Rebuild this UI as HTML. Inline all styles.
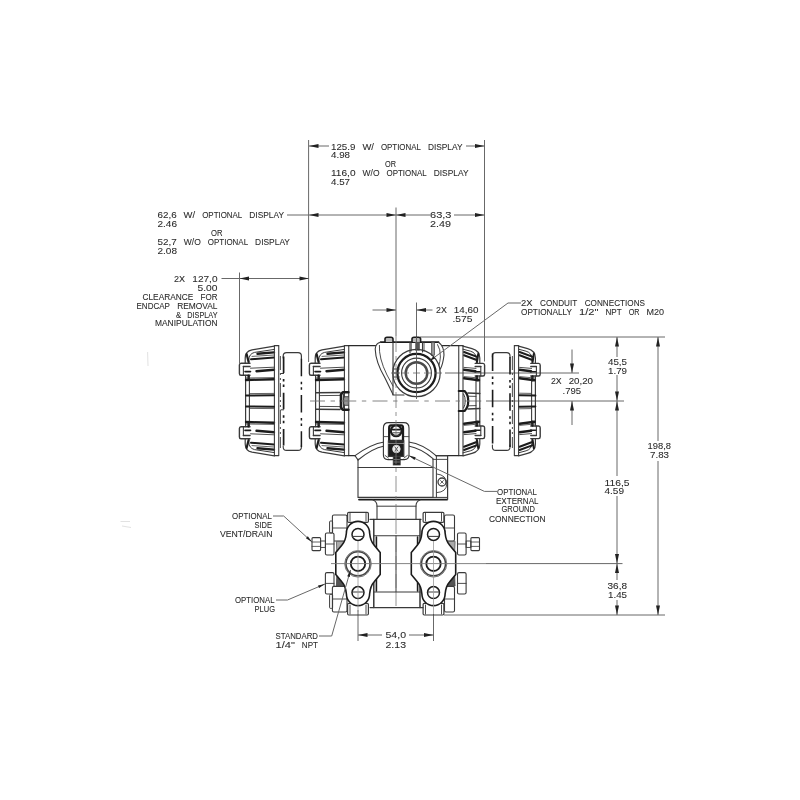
<!DOCTYPE html>
<html><head><meta charset="utf-8"><title>Dimension drawing</title>
<style>
html,body{margin:0;padding:0;background:#fff;}
body{width:800px;height:800px;overflow:hidden;}
svg{display:block;filter:grayscale(1) blur(0.45px);}
text{font-family:"Liberation Sans",sans-serif;fill:#2a2a2a;stroke:#2a2a2a;stroke-width:0.08px;}
</style></head><body>
<svg width="800" height="800" viewBox="0 0 800 800">
<rect width="800" height="800" fill="#ffffff"/>
<g id="dims" fill="none">
<line x1="308.6" y1="140" x2="308.6" y2="362" stroke="#686868" stroke-width="1" />
<line x1="484.5" y1="140" x2="484.5" y2="361.5" stroke="#686868" stroke-width="1" />
<line x1="396" y1="207.5" x2="396" y2="336" stroke="#686868" stroke-width="1" />
<line x1="239.5" y1="272.5" x2="239.5" y2="363" stroke="#686868" stroke-width="1" />
<line x1="416.5" y1="302.5" x2="416.5" y2="337" stroke="#686868" stroke-width="1" />
<line x1="309" y1="146" x2="329" y2="146" stroke="#686868" stroke-width="1" />
<line x1="466" y1="146" x2="484.5" y2="146" stroke="#686868" stroke-width="1" />
<polygon points="309.0,146.0 318.5,144.0 318.5,148.0" fill="#222"/>
<polygon points="484.5,146.0 475.0,144.0 475.0,148.0" fill="#222"/>
<line x1="287" y1="215" x2="430" y2="215" stroke="#686868" stroke-width="1" />
<line x1="454" y1="215" x2="484.5" y2="215" stroke="#686868" stroke-width="1" />
<polygon points="309.0,215.0 318.5,213.0 318.5,217.0" fill="#222"/>
<polygon points="396.0,215.0 386.5,213.0 386.5,217.0" fill="#222"/>
<polygon points="396.0,215.0 405.5,213.0 405.5,217.0" fill="#222"/>
<polygon points="484.5,215.0 475.0,213.0 475.0,217.0" fill="#222"/>
<line x1="221.5" y1="278.5" x2="309" y2="278.5" stroke="#686868" stroke-width="1" />
<polygon points="239.5,278.5 249.0,276.5 249.0,280.5" fill="#222"/>
<polygon points="309.0,278.5 299.5,276.5 299.5,280.5" fill="#222"/>
<line x1="372.5" y1="310" x2="396" y2="310" stroke="#686868" stroke-width="1" />
<polygon points="396.0,310.0 386.5,308.0 386.5,312.0" fill="#222"/>
<line x1="416.5" y1="310" x2="432.5" y2="310" stroke="#686868" stroke-width="1" />
<polygon points="416.5,310.0 426.0,308.0 426.0,312.0" fill="#222"/>
<line x1="420" y1="337" x2="665" y2="337" stroke="#686868" stroke-width="1" />
<line x1="445" y1="373" x2="579" y2="373" stroke="#686868" stroke-width="1" />
<line x1="486" y1="401" x2="624" y2="401" stroke="#686868" stroke-width="1" />
<line x1="486" y1="563.6" x2="622.5" y2="563.6" stroke="#686868" stroke-width="1" />
<line x1="444" y1="615" x2="665" y2="615" stroke="#686868" stroke-width="1" />
<line x1="617" y1="337" x2="617" y2="357" stroke="#686868" stroke-width="1" />
<line x1="617" y1="375" x2="617" y2="401" stroke="#686868" stroke-width="1" />
<polygon points="617.0,337.0 615.0,346.5 619.0,346.5" fill="#222"/>
<polygon points="617.0,401.0 615.0,391.5 619.0,391.5" fill="#222"/>
<line x1="617" y1="401" x2="617" y2="476" stroke="#686868" stroke-width="1" />
<line x1="617" y1="496" x2="617" y2="563.6" stroke="#686868" stroke-width="1" />
<polygon points="617.0,401.0 615.0,410.5 619.0,410.5" fill="#222"/>
<polygon points="617.0,563.6 615.0,554.1 619.0,554.1" fill="#222"/>
<line x1="617" y1="563.6" x2="617" y2="580" stroke="#686868" stroke-width="1" />
<line x1="617" y1="600" x2="617" y2="615" stroke="#686868" stroke-width="1" />
<polygon points="617.0,563.6 615.0,573.1 619.0,573.1" fill="#222"/>
<polygon points="617.0,615.0 615.0,605.5 619.0,605.5" fill="#222"/>
<line x1="658" y1="337" x2="658" y2="441" stroke="#686868" stroke-width="1" />
<line x1="658" y1="461" x2="658" y2="615" stroke="#686868" stroke-width="1" />
<polygon points="658.0,337.0 656.0,346.5 660.0,346.5" fill="#222"/>
<polygon points="658.0,615.0 656.0,605.5 660.0,605.5" fill="#222"/>
<line x1="572" y1="349.5" x2="572" y2="373" stroke="#686868" stroke-width="1" />
<polygon points="572.0,373.0 570.0,363.5 574.0,363.5" fill="#222"/>
<line x1="572" y1="401" x2="572" y2="425" stroke="#686868" stroke-width="1" />
<polygon points="572.0,401.0 570.0,410.5 574.0,410.5" fill="#222"/>
<line x1="358" y1="610" x2="358" y2="641" stroke="#686868" stroke-width="1" />
<line x1="433.5" y1="614" x2="433.5" y2="641" stroke="#686868" stroke-width="1" />
<line x1="358" y1="635" x2="382" y2="635" stroke="#686868" stroke-width="1" />
<line x1="409" y1="635" x2="433.5" y2="635" stroke="#686868" stroke-width="1" />
<polygon points="358.0,635.0 367.5,633.0 367.5,637.0" fill="#222"/>
<polygon points="433.5,635.0 424.0,633.0 424.0,637.0" fill="#222"/>
</g>
<g id="labels" style="opacity:0.999">
<text x="331.00" y="149.5" font-size="9.2" textLength="24.42" lengthAdjust="spacingAndGlyphs">125.9</text>
<text x="362.40" y="149.5" font-size="9.2" textLength="11.54" lengthAdjust="spacingAndGlyphs">W/</text>
<text x="380.92" y="149.5" font-size="9.2" textLength="39.99" lengthAdjust="spacingAndGlyphs">OPTIONAL</text>
<text x="427.88" y="149.5" font-size="9.2" textLength="34.62" lengthAdjust="spacingAndGlyphs">DISPLAY</text>
<text x="331.00" y="158.0" font-size="9.2" textLength="19.00" lengthAdjust="spacingAndGlyphs">4.98</text>
<text x="385.00" y="167.0" font-size="9.2" textLength="11.00" lengthAdjust="spacingAndGlyphs">OR</text>
<text x="331.00" y="175.5" font-size="9.2" textLength="24.53" lengthAdjust="spacingAndGlyphs">116,0</text>
<text x="362.54" y="175.5" font-size="9.2" textLength="16.99" lengthAdjust="spacingAndGlyphs">W/O</text>
<text x="386.54" y="175.5" font-size="9.2" textLength="40.17" lengthAdjust="spacingAndGlyphs">OPTIONAL</text>
<text x="433.72" y="175.5" font-size="9.2" textLength="34.78" lengthAdjust="spacingAndGlyphs">DISPLAY</text>
<text x="331.00" y="184.5" font-size="9.2" textLength="19.00" lengthAdjust="spacingAndGlyphs">4.57</text>
<text x="157.50" y="218.0" font-size="9.2" textLength="19.11" lengthAdjust="spacingAndGlyphs">62,6</text>
<text x="183.61" y="218.0" font-size="9.2" textLength="11.57" lengthAdjust="spacingAndGlyphs">W/</text>
<text x="202.18" y="218.0" font-size="9.2" textLength="40.10" lengthAdjust="spacingAndGlyphs">OPTIONAL</text>
<text x="249.28" y="218.0" font-size="9.2" textLength="34.72" lengthAdjust="spacingAndGlyphs">DISPLAY</text>
<text x="157.50" y="226.5" font-size="9.2" textLength="19.50" lengthAdjust="spacingAndGlyphs">2.46</text>
<text x="211.00" y="236.0" font-size="9.2" textLength="11.50" lengthAdjust="spacingAndGlyphs">OR</text>
<text x="157.50" y="245.0" font-size="9.2" textLength="19.20" lengthAdjust="spacingAndGlyphs">52,7</text>
<text x="183.73" y="245.0" font-size="9.2" textLength="17.04" lengthAdjust="spacingAndGlyphs">W/O</text>
<text x="207.80" y="245.0" font-size="9.2" textLength="40.29" lengthAdjust="spacingAndGlyphs">OPTIONAL</text>
<text x="255.12" y="245.0" font-size="9.2" textLength="34.88" lengthAdjust="spacingAndGlyphs">DISPLAY</text>
<text x="157.50" y="253.5" font-size="9.2" textLength="19.50" lengthAdjust="spacingAndGlyphs">2.08</text>
<text x="430.00" y="218.0" font-size="9.2" textLength="21.50" lengthAdjust="spacingAndGlyphs">63,3</text>
<text x="430.00" y="226.5" font-size="9.2" textLength="21.00" lengthAdjust="spacingAndGlyphs">2.49</text>
<text x="174.00" y="282.0" font-size="9.2" textLength="11.08" lengthAdjust="spacingAndGlyphs">2X</text>
<text x="192.29" y="282.0" font-size="9.2" textLength="25.21" lengthAdjust="spacingAndGlyphs">127,0</text>
<text x="197.50" y="290.5" font-size="9.2" textLength="20.00" lengthAdjust="spacingAndGlyphs">5.00</text>
<text x="142.50" y="299.5" font-size="9.2" textLength="50.75" lengthAdjust="spacingAndGlyphs">CLEARANCE</text>
<text x="200.58" y="299.5" font-size="9.2" textLength="16.92" lengthAdjust="spacingAndGlyphs">FOR</text>
<text x="136.50" y="308.5" font-size="9.2" textLength="33.40" lengthAdjust="spacingAndGlyphs">ENDCAP</text>
<text x="177.14" y="308.5" font-size="9.2" textLength="40.36" lengthAdjust="spacingAndGlyphs">REMOVAL</text>
<text x="176.00" y="317.5" font-size="9.2" textLength="5.16" lengthAdjust="spacingAndGlyphs">&amp;</text>
<text x="187.25" y="317.5" font-size="9.2" textLength="30.25" lengthAdjust="spacingAndGlyphs">DISPLAY</text>
<text x="155.00" y="326.0" font-size="9.2" textLength="62.50" lengthAdjust="spacingAndGlyphs">MANIPULATION</text>
<text x="436.00" y="313.0" font-size="9.2" textLength="10.83" lengthAdjust="spacingAndGlyphs">2X</text>
<text x="453.87" y="313.0" font-size="9.2" textLength="24.63" lengthAdjust="spacingAndGlyphs">14,60</text>
<text x="452.50" y="322.0" font-size="9.2" textLength="20.00" lengthAdjust="spacingAndGlyphs">.575</text>
<text x="521.00" y="305.5" font-size="9.2" textLength="11.53" lengthAdjust="spacingAndGlyphs">2X</text>
<text x="540.03" y="305.5" font-size="9.2" textLength="37.20" lengthAdjust="spacingAndGlyphs">CONDUIT</text>
<text x="584.73" y="305.5" font-size="9.2" textLength="60.27" lengthAdjust="spacingAndGlyphs">CONNECTIONS</text>
<text x="521.00" y="314.5" font-size="9.2" textLength="50.99" lengthAdjust="spacingAndGlyphs">OPTIONALLY</text>
<text x="579.01" y="314.5" font-size="9.2" textLength="19.43" lengthAdjust="spacingAndGlyphs">1/2&quot;</text>
<text x="605.45" y="314.5" font-size="9.2" textLength="16.19" lengthAdjust="spacingAndGlyphs">NPT</text>
<text x="628.65" y="314.5" font-size="9.2" textLength="10.79" lengthAdjust="spacingAndGlyphs">OR</text>
<text x="646.46" y="314.5" font-size="9.2" textLength="17.54" lengthAdjust="spacingAndGlyphs">M20</text>
<text x="608.00" y="364.5" font-size="9.2" textLength="19.00" lengthAdjust="spacingAndGlyphs">45,5</text>
<text x="608.00" y="373.5" font-size="9.2" textLength="19.00" lengthAdjust="spacingAndGlyphs">1.79</text>
<text x="551.00" y="384.0" font-size="9.2" textLength="10.70" lengthAdjust="spacingAndGlyphs">2X</text>
<text x="568.66" y="384.0" font-size="9.2" textLength="24.34" lengthAdjust="spacingAndGlyphs">20,20</text>
<text x="562.50" y="393.5" font-size="9.2" textLength="18.50" lengthAdjust="spacingAndGlyphs">.795</text>
<text x="647.50" y="449.0" font-size="9.2" textLength="23.50" lengthAdjust="spacingAndGlyphs">198,8</text>
<text x="650.00" y="458.0" font-size="9.2" textLength="19.00" lengthAdjust="spacingAndGlyphs">7.83</text>
<text x="604.50" y="485.5" font-size="9.2" textLength="25.00" lengthAdjust="spacingAndGlyphs">116,5</text>
<text x="604.50" y="494.0" font-size="9.2" textLength="19.50" lengthAdjust="spacingAndGlyphs">4.59</text>
<text x="607.50" y="588.5" font-size="9.2" textLength="19.50" lengthAdjust="spacingAndGlyphs">36,8</text>
<text x="608.00" y="597.5" font-size="9.2" textLength="19.00" lengthAdjust="spacingAndGlyphs">1.45</text>
<text x="497.00" y="495.0" font-size="9.2" textLength="40.00" lengthAdjust="spacingAndGlyphs">OPTIONAL</text>
<text x="496.00" y="503.5" font-size="9.2" textLength="42.50" lengthAdjust="spacingAndGlyphs">EXTERNAL</text>
<text x="501.50" y="512.0" font-size="9.2" textLength="33.50" lengthAdjust="spacingAndGlyphs">GROUND</text>
<text x="489.00" y="521.5" font-size="9.2" textLength="56.50" lengthAdjust="spacingAndGlyphs">CONNECTION</text>
<text x="232.00" y="518.5" font-size="9.2" textLength="40.00" lengthAdjust="spacingAndGlyphs">OPTIONAL</text>
<text x="254.50" y="527.5" font-size="9.2" textLength="17.50" lengthAdjust="spacingAndGlyphs">SIDE</text>
<text x="220.00" y="536.5" font-size="9.2" textLength="52.50" lengthAdjust="spacingAndGlyphs">VENT/DRAIN</text>
<text x="235.00" y="603.0" font-size="9.2" textLength="39.50" lengthAdjust="spacingAndGlyphs">OPTIONAL</text>
<text x="254.50" y="612.0" font-size="9.2" textLength="20.50" lengthAdjust="spacingAndGlyphs">PLUG</text>
<text x="275.50" y="638.5" font-size="9.2" textLength="42.50" lengthAdjust="spacingAndGlyphs">STANDARD</text>
<text x="275.50" y="648.0" font-size="9.2" textLength="19.37" lengthAdjust="spacingAndGlyphs">1/4&quot;</text>
<text x="301.86" y="648.0" font-size="9.2" textLength="16.14" lengthAdjust="spacingAndGlyphs">NPT</text>
<text x="385.50" y="638.0" font-size="9.2" textLength="20.50" lengthAdjust="spacingAndGlyphs">54,0</text>
<text x="385.50" y="647.5" font-size="9.2" textLength="20.50" lengthAdjust="spacingAndGlyphs">2.13</text>
</g>
<defs>
<g id="capLhalf" fill="none" stroke="#3a3a3a" stroke-linecap="round" stroke-linejoin="round">
<path d="M344.4,346.2 L322,349.8 Q315.2,351.2 315.2,358 L315.2,363" stroke-width="1.2"/>
<path d="M344.4,349.4 L324.5,352.4 Q319,353.8 318.8,360 L318.8,363" stroke-width="1.0"/>
<path d="M316.6,354 L318.6,362" stroke="#1c1c1c" stroke-width="2.2"/>
<path d="M320,363.2 L311,363.2 Q309.4,363.2 309.4,365 L309.4,373.4 Q309.4,375.2 311,375.2 L320,375.2" stroke-width="1.4"/>
<path d="M313.4,366.4 L313.4,375" stroke-width="1.1"/>
<path d="M313.4,366.4 L320,366.4" stroke-width="1.5"/>
<path d="M315,371.6 L320.5,371.6" stroke="#1c1c1c" stroke-width="1.6"/>
<path d="M315.6,375.4 L315.6,401" stroke-width="1.2"/>
<path d="M319.4,375.4 L319.4,401" stroke-width="1.1"/>
<path d="M318.4,375.4 L318.4,380" stroke="#1c1c1c" stroke-width="2"/>
<path d="M327.5,353.8 L344,352.4" stroke="#1c1c1c" stroke-width="2.4"/>
<path d="M322,356.4 L344,355" stroke-width="0.8"/>
<path d="M321,359.2 L344,357.6" stroke="#1c1c1c" stroke-width="2.0"/>
<path d="M320.5,368.2 L344,367.2" stroke-width="0.9"/>
<path d="M326.5,371.2 L344,369.8" stroke="#1c1c1c" stroke-width="2.4"/>
<path d="M316,378 L344,377.6" stroke-width="0.8"/>
<path d="M316,380 L344,379.2" stroke="#1c1c1c" stroke-width="2.4"/>
</g>
<g id="bossLhalf" fill="none" stroke="#3a3a3a" stroke-linecap="round" stroke-linejoin="round">
<path d="M316,392.8 L340,392.4" stroke-width="1.5"/>
<path d="M319.4,395.6 L340,395.4" stroke-width="0.9"/>
<path d="M341,401 L341,394.4 L342.8,392.2 L348.4,392.2" stroke="#1c1c1c" stroke-width="2.6"/>
<path d="M343.4,397.6 L348,397.6 L348,401 L343.4,401 Z" stroke="#777" stroke-width="0.6" fill="#999"/>
<path d="M343.6,396.8 L348.4,396.8 M343.6,394 L343.6,401" stroke-width="1.1"/>
</g>
<g id="plainLhalf" fill="none" stroke="#3a3a3a" stroke-linecap="round" stroke-linejoin="round">
<path d="M316,395.6 L344,395.2" stroke="#1c1c1c" stroke-width="2.0"/>
<path d="M319.4,393.6 L344,393.4" stroke-width="0.8"/>
</g>
<g id="bossL"><use href="#bossLhalf"/><use href="#bossLhalf" transform="translate(0,802) scale(1,-1)"/></g>
<g id="plainL"><use href="#plainLhalf"/><use href="#plainLhalf" transform="translate(0,802) scale(1,-1)"/></g>
<g id="capL"><use href="#capLhalf"/><use href="#capLhalf" transform="translate(0,802) scale(1,-1)"/>
<path d="M344.4,345.6 L344.4,455.6 M348.75,345.6 L348.75,455.6" stroke="#3a3a3a" stroke-width="1.1" fill="none"/>
</g>
<g id="capRhalf" fill="none" stroke="#3a3a3a" stroke-linecap="round" stroke-linejoin="round">
<path d="M463,346.2 L472,348.6 Q479.8,350.6 479.8,358 L479.8,363" stroke-width="1.2"/>
<path d="M463,349.2 L470.5,351.2 Q476.2,352.8 476.4,359 L476.4,363" stroke-width="1.0"/>
<path d="M478.2,354 L477,362" stroke="#1c1c1c" stroke-width="2"/>
<path d="M475.2,363.4 L483,363.4 Q484.6,363.4 484.6,365.2 L484.6,374.2 Q484.6,376 483,376 L475.2,376" stroke-width="1.4"/>
<path d="M480.8,366.6 L480.8,376" stroke-width="1.1"/>
<path d="M475.2,366.6 L480.8,366.6" stroke-width="1.5"/>
<path d="M475,371.8 L480,371.8" stroke="#1c1c1c" stroke-width="1.6"/>
<path d="M479.8,376.2 L479.8,401" stroke-width="1.2"/>
<path d="M476,376.2 L476,401" stroke-width="1.1"/>
<path d="M477,376.2 L477,380.6" stroke="#1c1c1c" stroke-width="2"/>
<path d="M464,352 L476.5,356.6" stroke="#1c1c1c" stroke-width="2"/>
<path d="M464,355.2 L476,359.8" stroke="#1c1c1c" stroke-width="2.0"/>
<path d="M464,367.4 L476,368.4" stroke-width="0.9"/>
<path d="M464,369.8 L475.5,371.2" stroke="#1c1c1c" stroke-width="2.4"/>
<path d="M464,376.6 L479,378" stroke-width="0.8"/>
<path d="M464,378.2 L479,380.2" stroke="#1c1c1c" stroke-width="2.4"/>
</g>
<g id="bossRhalf" fill="none" stroke="#3a3a3a" stroke-linecap="round" stroke-linejoin="round">
<path d="M468,393 L479.8,393.4" stroke-width="1.5"/>
<path d="M468.4,396.2 L476,396.4" stroke-width="0.9"/>
<path d="M458.75,391 L464.6,391 Q468.4,395 468.2,401" stroke="#1c1c1c" stroke-width="2.2"/>
<path d="M463.6,394 Q465.4,397 465.2,401" stroke-width="1.0"/>
</g>
<g id="plainRhalf" fill="none" stroke="#3a3a3a" stroke-linecap="round" stroke-linejoin="round">
<path d="M464,395.2 L479.8,395.6" stroke="#1c1c1c" stroke-width="2.0"/>
<path d="M464,393.2 L476,393.4" stroke-width="0.8"/>
</g>
<g id="bossR"><use href="#bossRhalf"/><use href="#bossRhalf" transform="translate(0,802) scale(1,-1)"/></g>
<g id="plainR"><use href="#plainRhalf"/><use href="#plainRhalf" transform="translate(0,802) scale(1,-1)"/></g>
<g id="capR"><use href="#capRhalf"/><use href="#capRhalf" transform="translate(0,802) scale(1,-1)"/>
<path d="M458.75,345.6 L458.75,455.6 M463,345.6 L463,455.6" stroke="#3a3a3a" stroke-width="1.1" fill="none"/>
</g>
</defs>
<g id="device" fill="none">
<use href="#capL"/><use href="#bossL"/>
<use href="#capL" transform="translate(-70,0)"/><use href="#plainL" transform="translate(-70,0)"/>
<use href="#capR"/><use href="#bossR"/>
<use href="#capR" transform="translate(55.6,0)"/><use href="#plainR" transform="translate(55.6,0)"/>
<path d="M344.4,345.6 L348.75,345.6 M344.4,455.6 L348.75,455.6" stroke="#3a3a3a" stroke-width="1.1" fill="none" stroke-linejoin="round" stroke-linecap="round" />
<path d="M274.4,345.6 L278.75,345.6 M274.4,455.6 L278.75,455.6" stroke="#3a3a3a" stroke-width="1.1" fill="none" stroke-linejoin="round" stroke-linecap="round" />
<path d="M458.75,345.6 L463,345.6 M458.75,455.6 L463,455.6" stroke="#3a3a3a" stroke-width="1.1" fill="none" stroke-linejoin="round" stroke-linecap="round" />
<path d="M514.35,345.6 L518.6,345.6 M514.35,455.6 L518.6,455.6" stroke="#3a3a3a" stroke-width="1.1" fill="none" stroke-linejoin="round" stroke-linecap="round" />
<path d="M348.75,345.6 L375.4,345.6" stroke="#2a2a2a" stroke-width="1.4" fill="none" stroke-linejoin="round" stroke-linecap="round" />
<path d="M442.5,345.6 L458.75,345.6" stroke="#2a2a2a" stroke-width="1.4" fill="none" stroke-linejoin="round" stroke-linecap="round" />
<path d="M348.75,455.6 L355,455.6" stroke="#2a2a2a" stroke-width="1.4" fill="none" stroke-linejoin="round" stroke-linecap="round" />
<path d="M436,455.6 L458.75,455.6" stroke="#2a2a2a" stroke-width="1.4" fill="none" stroke-linejoin="round" stroke-linecap="round" />
<path d="M283.2,358 L283.2,356 Q283.2,352.6 286.6,352.6 L298,352.6 Q301.4,352.6 301.4,356 L301.4,358.75" stroke="#3a3a3a" stroke-width="1.2" fill="none" stroke-linejoin="round" stroke-linecap="round" />
<path d="M283.2,446 L283.2,447 Q283.2,450.4 286.6,450.4 L298,450.4 Q301.4,450.4 301.4,447 L301.4,445" stroke="#3a3a3a" stroke-width="1.1" fill="none" stroke-linejoin="round" stroke-linecap="round" />
<path d="M301.4,358.75 L301.4,447" stroke="#1c1c1c" stroke-width="1.5" fill="none" stroke-linejoin="round" stroke-linecap="butt" stroke-dasharray="17.5 5.5 2.5 3 2.5 5.25"/>
<path d="M283.6,356.5 L283.6,447" stroke="#1c1c1c" stroke-width="1.7" fill="none" stroke-linejoin="round" stroke-linecap="butt" stroke-dasharray="16.5 6 2.5 3 2.5 5.75"/>
<path d="M280.4,356 L280.4,448" stroke="#3a3a3a" stroke-width="0.9" fill="none" stroke-linejoin="round" stroke-linecap="butt" stroke-dasharray="14 3 2 3 2 3"/>
<path d="M281,373.5 L283.6,373.5 M281,409.8 L283.6,409.8" stroke="#3a3a3a" stroke-width="1.0" fill="none" stroke-linejoin="round" stroke-linecap="round" />
<path d="M492.4,357 L492.4,356 Q492.4,352.6 495.8,352.6 L506.6,352.6 Q510,352.6 510,356 L510,357" stroke="#3a3a3a" stroke-width="1.2" fill="none" stroke-linejoin="round" stroke-linecap="round" />
<path d="M492.4,445 L492.4,447 Q492.4,450.4 495.8,450.4 L506.6,450.4 Q510,450.4 510,447 L510,445" stroke="#3a3a3a" stroke-width="1.1" fill="none" stroke-linejoin="round" stroke-linecap="round" />
<path d="M492.6,353.5 L492.6,447" stroke="#1c1c1c" stroke-width="1.6" fill="none" stroke-linejoin="round" stroke-linecap="butt" stroke-dasharray="17.5 5.5 2.5 3 2.5 5.25"/>
<path d="M510,357 L510,447" stroke="#1c1c1c" stroke-width="1.6" fill="none" stroke-linejoin="round" stroke-linecap="butt" stroke-dasharray="17.5 5.5 2.5 3 2.5 5.25"/>
<path d="M512.4,356 L512.4,448" stroke="#3a3a3a" stroke-width="0.9" fill="none" stroke-linejoin="round" stroke-linecap="butt" stroke-dasharray="14 3 2 3 2 3"/>
<path d="M380.6,342.2 L438.5,342.2" stroke="#1c1c1c" stroke-width="1.8" fill="none" stroke-linejoin="round" stroke-linecap="round" />
<path d="M380.6,342.2 Q375.6,343 375.2,349 Q375.6,362 385,378 L393,394.4" stroke="#3a3a3a" stroke-width="1.1" fill="none" stroke-linejoin="round" stroke-linecap="round" />
<path d="M379.4,345.4 Q378.6,358 387,375 L393,386" stroke="#3a3a3a" stroke-width="0.9" fill="none" stroke-linejoin="round" stroke-linecap="round" />
<path d="M393,342.2 L393,394.6" stroke="#3a3a3a" stroke-width="1.1" fill="none" stroke-linejoin="round" stroke-linecap="round" />
<path d="M393,395 L404,395" stroke="#3a3a3a" stroke-width="1.1" fill="none" stroke-linejoin="round" stroke-linecap="round" />
<path d="M438.5,342.2 Q444,346 444,355 Q443,364 440.4,369" stroke="#3a3a3a" stroke-width="1.1" fill="none" stroke-linejoin="round" stroke-linecap="round" />
<path d="M437.6,344.6 Q440.6,349 440.4,357 Q440,362 439,365" stroke="#3a3a3a" stroke-width="0.9" fill="none" stroke-linejoin="round" stroke-linecap="round" />
<path d="M385,342 L385,339 Q385,337.2 387,337.2 L391,337.2 Q393,337.2 393,339 L393,342" stroke="#1c1c1c" stroke-width="1.6" fill="#bbb" stroke-linejoin="round" stroke-linecap="round" />
<path d="M412,342 L412,339 Q412,337.2 414,337.2 L418.6,337.2 Q420.6,337.2 420.6,339 L420.6,342" stroke="#1c1c1c" stroke-width="1.6" fill="#bbb" stroke-linejoin="round" stroke-linecap="round" />
<path d="M410,342.2 L410,353 M422.5,342.2 L422.5,352" stroke="#3a3a3a" stroke-width="1.1" fill="none" stroke-linejoin="round" stroke-linecap="round" />
<rect x="415.6" y="342.2" width="4" height="8" rx="0" stroke="#555" stroke-width="0.6" fill="#555"/>
<path d="M411.2,342.2 L411.2,351" stroke="#3a3a3a" stroke-width="0.9" fill="none" stroke-linejoin="round" stroke-linecap="round" />
<rect x="431.5" y="342.2" width="3" height="13" rx="0" stroke="#444" stroke-width="0.7" fill="#999"/>
<path d="M424,342.2 L424,351" stroke="#3a3a3a" stroke-width="0.9" fill="none" stroke-linejoin="round" stroke-linecap="round" />
<circle cx="416.5" cy="373" r="23.7" stroke="#3a3a3a" stroke-width="1.2" fill="none"/>
<circle cx="416.5" cy="373" r="19.1" stroke="#1c1c1c" stroke-width="2.3" fill="none"/>
<circle cx="416.5" cy="373" r="14.9" stroke="#3a3a3a" stroke-width="1.1" fill="none"/>
<circle cx="416.5" cy="373" r="10.8" stroke="#4a4a4a" stroke-width="2.4" fill="none"/>
<path d="M394.4,369 L399.4,369 M394.4,373 L399.4,373 M394.4,377 L399.4,377" stroke="#3a3a3a" stroke-width="1.0" fill="none" stroke-linejoin="round" stroke-linecap="round" />
<path d="M355,455.6 Q371,444 384.2,442" stroke="#3a3a3a" stroke-width="1.1" fill="none" stroke-linejoin="round" stroke-linecap="round" />
<path d="M358,460 Q372,448.4 384.2,446" stroke="#3a3a3a" stroke-width="1.1" fill="none" stroke-linejoin="round" stroke-linecap="round" />
<path d="M355,455.6 L358,460" stroke="#3a3a3a" stroke-width="1.1" fill="none" stroke-linejoin="round" stroke-linecap="round" />
<path d="M408.6,442 Q423,444 436,455.6" stroke="#3a3a3a" stroke-width="1.1" fill="none" stroke-linejoin="round" stroke-linecap="round" />
<path d="M408.6,446 Q421,448.4 433,458.6" stroke="#3a3a3a" stroke-width="1.1" fill="none" stroke-linejoin="round" stroke-linecap="round" />
<path d="M358,459 L358,497.4 L433,497.4 L433,459" stroke="#3a3a3a" stroke-width="1.1" fill="none" stroke-linejoin="round" stroke-linecap="round" />
<path d="M358,467.5 L433,467.5" stroke="#3a3a3a" stroke-width="1.1" fill="none" stroke-linejoin="round" stroke-linecap="round" />
<path d="M359,499.6 L447,499.6" stroke="#1c1c1c" stroke-width="1.8" fill="none" stroke-linejoin="round" stroke-linecap="round" />
<path d="M436,455.6 L447.6,455.6 L447.6,499.6" stroke="#3a3a3a" stroke-width="1.2" fill="none" stroke-linejoin="round" stroke-linecap="round" />
<path d="M436.4,456 L436.4,497.4 M433,497.4 L447,497.4" stroke="#3a3a3a" stroke-width="1.0" fill="none" stroke-linejoin="round" stroke-linecap="round" />
<path d="M433,459.4 L447.6,459.4" stroke="#3a3a3a" stroke-width="0.9" fill="none" stroke-linejoin="round" stroke-linecap="round" />
<circle cx="442" cy="482" r="4" stroke="#3a3a3a" stroke-width="1.3" fill="none"/>
<path d="M440.6,480.6 L443.4,483.4 M443.4,480.6 L440.6,483.4" stroke="#3a3a3a" stroke-width="0.8" fill="none" stroke-linejoin="round" stroke-linecap="round" />
<path d="M437,474 Q446.6,475 446.8,484 Q446.4,492 437,492.6" stroke="#3a3a3a" stroke-width="0.9" fill="none" stroke-linejoin="round" stroke-linecap="round" />
<path d="M388.6,422.6 L403.8,422.6 Q409,422.6 409,428 L409,455 Q409,459.6 404.4,459.6 L388,459.6 Q383.4,459.6 383.4,455 L383.4,428 Q383.4,422.6 388.6,422.6 Z" stroke="#333" stroke-width="1.1" fill="#fff" stroke-linejoin="round" stroke-linecap="round" />
<path d="M383.6,436.6 L388.4,436.6 M404,436.6 L408.8,436.6" stroke="#444" stroke-width="0.9" fill="none" stroke-linejoin="round" stroke-linecap="round" />
<path d="M391,425.4 L401.2,425.4 Q403,425.4 403,428 L403,441 L389.2,441 L389.2,428 Q389.2,425.4 391,425.4 Z" stroke="#1c1c1c" stroke-width="2.3" fill="none" stroke-linejoin="round" stroke-linecap="round" />
<circle cx="396.2" cy="430.8" r="5.4" stroke="#1c1c1c" stroke-width="2.2" fill="#fff"/>
<path d="M392.4,429.6 L400,429.6" stroke="#1c1c1c" stroke-width="1.6" fill="none" stroke-linejoin="round" stroke-linecap="round" />
<path d="M392.8,432.8 L399.8,432.8" stroke="#444" stroke-width="1.0" fill="none" stroke-linejoin="round" stroke-linecap="round" />
<path d="M393.6,435.4 L398.8,435.4" stroke="#3a3a3a" stroke-width="1.4" fill="none" stroke-linejoin="round" stroke-linecap="round" />
<rect x="388.4" y="441" width="15.4" height="15.4" rx="0" stroke="#3a3a3a" stroke-width="1.2" fill="#1e1e1e"/>
<circle cx="396.4" cy="449" r="3.8" stroke="#ddd" stroke-width="0.8" fill="#eee"/>
<path d="M395,447 L397.8,451 M397.8,447 L395,451" stroke="#555" stroke-width="1.0" fill="none" stroke-linejoin="round" stroke-linecap="round" />
<path d="M388.4,443.4 L403.8,443.4" stroke="#bbb" stroke-width="0.7" fill="none" stroke-linejoin="round" stroke-linecap="round" />
<path d="M385,455.4 L388.4,458 M407.4,455.4 L404,458" stroke="#444" stroke-width="0.9" fill="none" stroke-linejoin="round" stroke-linecap="round" />
<rect x="393.2" y="456.4" width="7" height="8.6" rx="0" stroke="#3a3a3a" stroke-width="0.8" fill="#222"/>
<path d="M394,459.6 L399.4,459.6 M394,462 L399.4,462" stroke="#aaa" stroke-width="0.6" fill="none" stroke-linejoin="round" stroke-linecap="round" />
<path d="M373,500 Q377,501.4 377,506 L377,519.4" stroke="#3a3a3a" stroke-width="1.1" fill="none" stroke-linejoin="round" stroke-linecap="round" />
<path d="M420,500 Q416,501.4 416,506 L416,519.4" stroke="#3a3a3a" stroke-width="1.1" fill="none" stroke-linejoin="round" stroke-linecap="round" />
<path d="M377,506.2 L416,506.2" stroke="#3a3a3a" stroke-width="1.0" fill="none" stroke-linejoin="round" stroke-linecap="round" />
<path d="M370,519.4 L421,519.4" stroke="#3a3a3a" stroke-width="1.1" fill="none" stroke-linejoin="round" stroke-linecap="round" />
<path d="M373.8,519.4 L373.8,607.6" stroke="#2a2a2a" stroke-width="1.4" fill="none" stroke-linejoin="round" stroke-linecap="round" />
<path d="M420,519.4 L420,607.6" stroke="#2a2a2a" stroke-width="1.4" fill="none" stroke-linejoin="round" stroke-linecap="round" />
<path d="M370,607.6 L423,607.6" stroke="#3a3a3a" stroke-width="1.1" fill="none" stroke-linejoin="round" stroke-linecap="round" />
<path d="M374,535.8 L420,535.8 M374,592 L420,592" stroke="#3a3a3a" stroke-width="1.1" fill="none" stroke-linejoin="round" stroke-linecap="round" />
<path d="M396,535.8 L396,592" stroke="#3a3a3a" stroke-width="1.0" fill="none" stroke-linejoin="round" stroke-linecap="round" />
<path d="M376.4,537 L376.4,552 M376.4,576 L376.4,591" stroke="#1c1c1c" stroke-width="1.6" fill="none" stroke-linejoin="round" stroke-linecap="round" />
<path d="M417.6,537 L417.6,552 M417.6,576 L417.6,591" stroke="#1c1c1c" stroke-width="1.6" fill="none" stroke-linejoin="round" stroke-linecap="round" />
<rect x="347.6" y="512.4" width="20.8" height="10" rx="1.2" stroke="#3a3a3a" stroke-width="1.2" fill="none"/>
<rect x="347.6" y="603.4" width="20.8" height="11.6" rx="1.2" stroke="#3a3a3a" stroke-width="1.2" fill="none"/>
<path d="M350,513 L350,521 M366,513 L366,521" stroke="#3a3a3a" stroke-width="0.9" fill="none" stroke-linejoin="round" stroke-linecap="round" />
<path d="M350,605 L350,614 M366,605 L366,614" stroke="#3a3a3a" stroke-width="0.9" fill="none" stroke-linejoin="round" stroke-linecap="round" />
<rect x="332.4" y="515" width="14.600000000000023" height="26" rx="1.5" stroke="#3a3a3a" stroke-width="1.1" fill="none"/>
<path d="M332.4,528 L347,528" stroke="#3a3a3a" stroke-width="0.9" fill="none" stroke-linejoin="round" stroke-linecap="round" />
<rect x="325.4" y="533" width="8.600000000000023" height="22" rx="1.5" stroke="#3a3a3a" stroke-width="1.1" fill="#fff"/>
<path d="M325.4,544 L334,544" stroke="#3a3a3a" stroke-width="0.9" fill="none" stroke-linejoin="round" stroke-linecap="round" />
<rect x="325.4" y="572.6" width="8.600000000000023" height="21.4" rx="1.5" stroke="#3a3a3a" stroke-width="1.1" fill="none"/>
<path d="M325.4,583.4 L334,583.4" stroke="#3a3a3a" stroke-width="0.9" fill="none" stroke-linejoin="round" stroke-linecap="round" />
<rect x="332.4" y="586.4" width="14.600000000000023" height="25.6" rx="1.5" stroke="#3a3a3a" stroke-width="1.1" fill="#fff"/>
<path d="M332.4,599 L347,599" stroke="#3a3a3a" stroke-width="0.9" fill="none" stroke-linejoin="round" stroke-linecap="round" />
<rect x="329.6" y="521" width="3" height="12" rx="1" stroke="#3a3a3a" stroke-width="1.0" fill="none"/>
<rect x="329.6" y="594.4" width="3" height="14" rx="1" stroke="#3a3a3a" stroke-width="1.0" fill="none"/>
<rect x="320.6" y="541" width="4.7999999999999545" height="6.4" rx="0" stroke="#3a3a3a" stroke-width="0.9" fill="none"/>
<rect x="312" y="537.6" width="8.600000000000023" height="13" rx="1" stroke="#3a3a3a" stroke-width="1.1" fill="none"/>
<path d="M312,542 L320.6,542 M312,546.4 L320.6,546.4" stroke="#3a3a3a" stroke-width="0.8" fill="none" stroke-linejoin="round" stroke-linecap="round" />
<path d="M346,541.4 L336.4,541.4 L336.8,551.6 Z" stroke="#555" stroke-width="0.8" fill="#aaa" stroke-linejoin="round" stroke-linecap="round" />
<path d="M346,586 L336.4,586 L336.8,575.6 Z" stroke="#444" stroke-width="0.8" fill="#555" stroke-linejoin="round" stroke-linecap="round" />
<path d="M346.4,533 A11.6,11.6 0 0 1 369.6,533 Q370.4,541 374,545 L380.2,552.6 L380.2,574.6 L374,582 Q370.4,586 369.6,594 A11.6,11.6 0 0 1 346.4,594 Q345.6,586 342,582 L335.8,574.6 L335.8,552.6 L342,545 Q345.6,541 346.4,533 Z" stroke="#1c1c1c" stroke-width="1.6" fill="#fff" stroke-linejoin="round" stroke-linecap="round" />
<circle cx="358" cy="534.4" r="6" stroke="#1c1c1c" stroke-width="1.5" fill="none"/>
<path d="M352.4,536.4 L363.6,536.4" stroke="#3a3a3a" stroke-width="1.0" fill="none" stroke-linejoin="round" stroke-linecap="round" />
<circle cx="358" cy="592.6" r="6" stroke="#1c1c1c" stroke-width="1.5" fill="none"/>
<path d="M352.4,592 L363.6,592" stroke="#3a3a3a" stroke-width="1.0" fill="none" stroke-linejoin="round" stroke-linecap="round" />
<circle cx="358" cy="563.8" r="13.3" stroke="#666" stroke-width="0.9" fill="none"/>
<circle cx="358" cy="563.8" r="12.0" stroke="#444" stroke-width="1.5" fill="none"/>
<circle cx="358" cy="563.8" r="7.2" stroke="#1c1c1c" stroke-width="1.8" fill="none"/>
<rect x="423.1" y="512.4" width="20.8" height="10" rx="1.2" stroke="#3a3a3a" stroke-width="1.2" fill="none"/>
<rect x="423.1" y="603.4" width="20.8" height="11.6" rx="1.2" stroke="#3a3a3a" stroke-width="1.2" fill="none"/>
<path d="M425.5,513 L425.5,521 M441.5,513 L441.5,521" stroke="#3a3a3a" stroke-width="0.9" fill="none" stroke-linejoin="round" stroke-linecap="round" />
<path d="M425.5,605 L425.5,614 M441.5,605 L441.5,614" stroke="#3a3a3a" stroke-width="0.9" fill="none" stroke-linejoin="round" stroke-linecap="round" />
<rect x="444.5" y="515" width="10.0" height="26" rx="1.5" stroke="#3a3a3a" stroke-width="1.1" fill="none"/>
<path d="M444.5,528 L454.5,528" stroke="#3a3a3a" stroke-width="0.9" fill="none" stroke-linejoin="round" stroke-linecap="round" />
<rect x="457.5" y="533" width="8.600000000000023" height="22" rx="1.5" stroke="#3a3a3a" stroke-width="1.1" fill="#fff"/>
<path d="M457.5,544 L466.1,544" stroke="#3a3a3a" stroke-width="0.9" fill="none" stroke-linejoin="round" stroke-linecap="round" />
<rect x="457.5" y="572.6" width="8.600000000000023" height="21.4" rx="1.5" stroke="#3a3a3a" stroke-width="1.1" fill="none"/>
<path d="M457.5,583.4 L466.1,583.4" stroke="#3a3a3a" stroke-width="0.9" fill="none" stroke-linejoin="round" stroke-linecap="round" />
<rect x="444.5" y="586.4" width="10.0" height="25.6" rx="1.5" stroke="#3a3a3a" stroke-width="1.1" fill="#fff"/>
<path d="M444.5,599 L454.5,599" stroke="#3a3a3a" stroke-width="0.9" fill="none" stroke-linejoin="round" stroke-linecap="round" />
<rect x="466.1" y="541" width="4.7999999999999545" height="6.4" rx="0" stroke="#3a3a3a" stroke-width="0.9" fill="none"/>
<rect x="470.9" y="537.6" width="8.600000000000023" height="13" rx="1" stroke="#3a3a3a" stroke-width="1.1" fill="none"/>
<path d="M470.9,542 L479.5,542 M470.9,546.4 L479.5,546.4" stroke="#3a3a3a" stroke-width="0.8" fill="none" stroke-linejoin="round" stroke-linecap="round" />
<path d="M445.5,541.4 L455.1,541.4 L454.7,551.6 Z" stroke="#555" stroke-width="0.8" fill="#aaa" stroke-linejoin="round" stroke-linecap="round" />
<path d="M445.5,586 L455.1,586 L454.7,575.6 Z" stroke="#444" stroke-width="0.8" fill="#555" stroke-linejoin="round" stroke-linecap="round" />
<path d="M421.9,533 A11.6,11.6 0 0 1 445.1,533 Q445.9,541 449.5,545 L455.7,552.6 L455.7,574.6 L449.5,582 Q445.9,586 445.1,594 A11.6,11.6 0 0 1 421.9,594 Q421.1,586 417.5,582 L411.3,574.6 L411.3,552.6 L417.5,545 Q421.1,541 421.9,533 Z" stroke="#1c1c1c" stroke-width="1.6" fill="#fff" stroke-linejoin="round" stroke-linecap="round" />
<circle cx="433.5" cy="534.4" r="6" stroke="#1c1c1c" stroke-width="1.5" fill="none"/>
<path d="M427.9,536.4 L439.1,536.4" stroke="#3a3a3a" stroke-width="1.0" fill="none" stroke-linejoin="round" stroke-linecap="round" />
<circle cx="433.5" cy="592.6" r="6" stroke="#1c1c1c" stroke-width="1.5" fill="none"/>
<path d="M427.9,592 L439.1,592" stroke="#3a3a3a" stroke-width="1.0" fill="none" stroke-linejoin="round" stroke-linecap="round" />
<circle cx="433.5" cy="563.8" r="13.3" stroke="#666" stroke-width="0.9" fill="none"/>
<circle cx="433.5" cy="563.8" r="12.0" stroke="#444" stroke-width="1.5" fill="none"/>
<circle cx="433.5" cy="563.8" r="7.2" stroke="#1c1c1c" stroke-width="1.8" fill="none"/>
</g>
<g id="centres" fill="none">
<line x1="310" y1="401" x2="486" y2="401" stroke="#777" stroke-width="0.9" stroke-dasharray="15 5.6 4.4 6.25"/>
<line x1="396" y1="336" x2="396" y2="520" stroke="#777" stroke-width="0.8" stroke-dasharray="16 4 4 4"/>
<line x1="396" y1="520" x2="396" y2="607" stroke="#777" stroke-width="0.8" stroke-dasharray="14 4"/>
<line x1="416.5" y1="337" x2="416.5" y2="399" stroke="#555" stroke-width="0.9" />
<line x1="391" y1="373" x2="445" y2="373" stroke="#666" stroke-width="0.8" stroke-dasharray="7 4"/>
<line x1="331" y1="563.6" x2="486" y2="563.6" stroke="#777" stroke-width="0.9" />
<line x1="358" y1="541" x2="358" y2="612" stroke="#999" stroke-width="0.8" />
<line x1="433.5" y1="541" x2="433.5" y2="614" stroke="#999" stroke-width="0.8" />
</g>
<g id="leaders" fill="none">
<polyline points="521,303 508,303 430,360.6" stroke="#686868" stroke-width="1"/>
<polygon points="429.4,361.0 433.4,356.3 435.1,358.6" fill="#222"/>
<polyline points="497,491.4 484.4,491.4 408.75,455.6" stroke="#686868" stroke-width="1"/>
<polygon points="408.8,455.6 415.7,457.3 414.5,459.9" fill="#222"/>
<polyline points="273,516 283.7,516 312,542" stroke="#686868" stroke-width="1"/>
<polygon points="312.0,542.0 305.9,538.3 307.8,536.2" fill="#222"/>
<polyline points="276,600 287.5,600 325,584" stroke="#686868" stroke-width="1"/>
<polygon points="325.0,584.0 319.1,588.0 318.0,585.5" fill="#222"/>
<polyline points="319,636 331.7,636 350.5,570" stroke="#686868" stroke-width="1"/>
<polygon points="350.5,570.0 349.9,577.1 347.2,576.3" fill="#222"/>
</g>
<g id="faint" fill="none" stroke="#e2e2e2" stroke-width="1">
<path d="M147.6,352 L148,366"/>
<path d="M120.5,521.5 L130,521.5 M122,526 L131,527.5"/>
</g>
</svg>
</body></html>
